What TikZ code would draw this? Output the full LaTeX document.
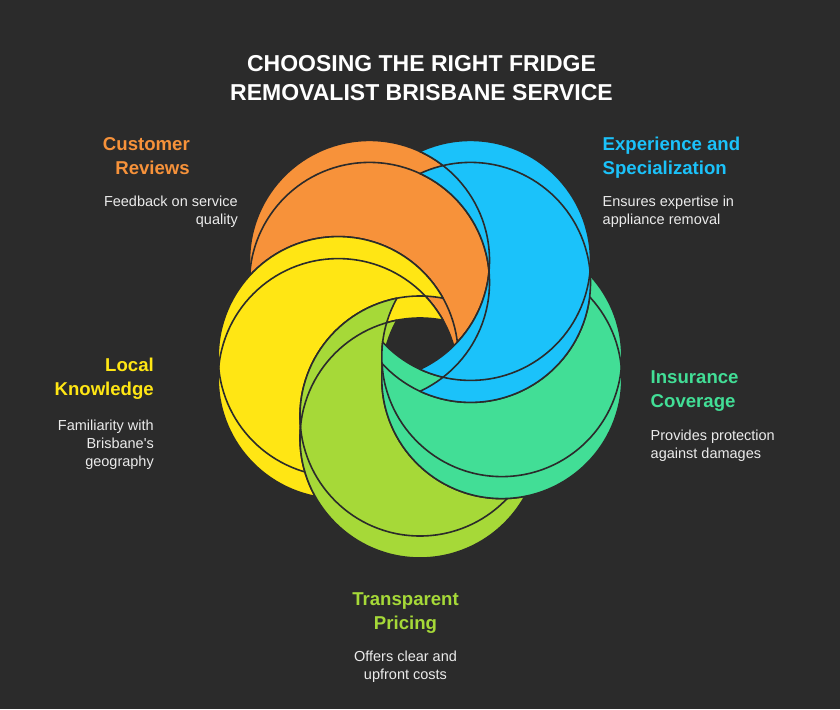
\documentclass[tikz,border=0pt]{standalone}
\usepackage{fontspec}
\setmainfont{Liberation Sans}
\definecolor{bgC}{HTML}{2B2B2B}
\definecolor{orangeC}{HTML}{F7923A}
\definecolor{blueC}{HTML}{1BC2FA}
\definecolor{greenC}{HTML}{42DE96}
\definecolor{limeC}{HTML}{A6D938}
\definecolor{yellowC}{HTML}{FFE614}
\definecolor{textC}{HTML}{EBEBEB}
\tikzset{
  rim/.style={draw=bgC, line width=1.6pt},
  head/.style={font=\fontsize{18.6}{24.3}\selectfont\bfseries, inner sep=0pt},
  desc/.style={text=textC, font=\fontsize{14.5}{18}\selectfont, inner sep=0pt},
}
\begin{document}
\begin{tikzpicture}[x=1pt,y=-1pt]
\fill[bgC] (0,0) rectangle (840,709);
\useasboundingbox (0,0) rectangle (840,709);

\coordinate (orU) at (369.5,260.4); \coordinate (orL) at (369.5,282.4);
\coordinate (blU) at (470.5,260.4); \coordinate (blL) at (470.5,282.4);
\coordinate (grU) at (501.8,356.6); \coordinate (grL) at (501.8,378.6);
\coordinate (liU) at (420,416);     \coordinate (liL) at (420,438);
\coordinate (yeU) at (338.2,356.6); \coordinate (yeL) at (338.2,378.6);

\foreach \col/\own/\cut in {orangeC/or/ye, yellowC/ye/li, limeC/li/gr, greenC/gr/bl, blueC/bl/or}{
  \foreach \f in {U,L}{
    \begin{scope}[even odd rule]
      \clip (0,0) rectangle (840,709) (\cut\f) circle (120pt);
      \fill[\col] (\own\f) circle (120pt);
    \end{scope}
  }
  \foreach \f in {U,L}{
    \begin{scope}[even odd rule]
      \clip (0,0) rectangle (840,709) (\cut\f) circle (120pt);
      \draw[rim] (\own\f) circle (120pt);
    \end{scope}
    \begin{scope}
      \clip (\own\f) circle (120pt);
      \draw[rim] (\cut\f) circle (120pt);
    \end{scope}
  }
}

\node[font=\fontsize{23}{29}\selectfont\bfseries, text=white, align=center, anchor=north, inner sep=0pt] (title) at (421.5,55.5) {CHOOSING THE RIGHT FRIDGE\\REMOVALIST BRISBANE SERVICE};

\node[head, text=orangeC, align=right, anchor=north east] (revH) at (190,137) {Customer\\Reviews};
\node[desc, align=right, anchor=north east] (revD) at (238,195.5) {Feedback on service\\quality};

\node[head, text=blueC, align=left, anchor=north west] (expH) at (602.5,137) {Experience and\\Specialization};
\node[desc, align=left, anchor=north west] (expD) at (602.5,195.5) {Ensures expertise in\\appliance removal};

\node[head, text=greenC, align=left, anchor=north west] (insH) at (650.5,370.5) {Insurance\\Coverage};
\node[desc, align=left, anchor=north west] (insD) at (650.5,429.5) {Provides protection\\against damages};

\node[head, text=limeC, align=center, anchor=north] (priH) at (405.5,592.5) {Transparent\\Pricing};
\node[desc, align=center, anchor=north] (priD) at (405.5,650.5) {Offers clear and\\upfront costs};

\node[head, text=yellowC, align=right, anchor=north east] (locH) at (154,358) {Local\\Knowledge};
\node[desc, align=right, anchor=north east] (locD) at (154,420) {Familiarity with\\Brisbane\textquotesingle s\\geography};
\end{tikzpicture}
\end{document}
